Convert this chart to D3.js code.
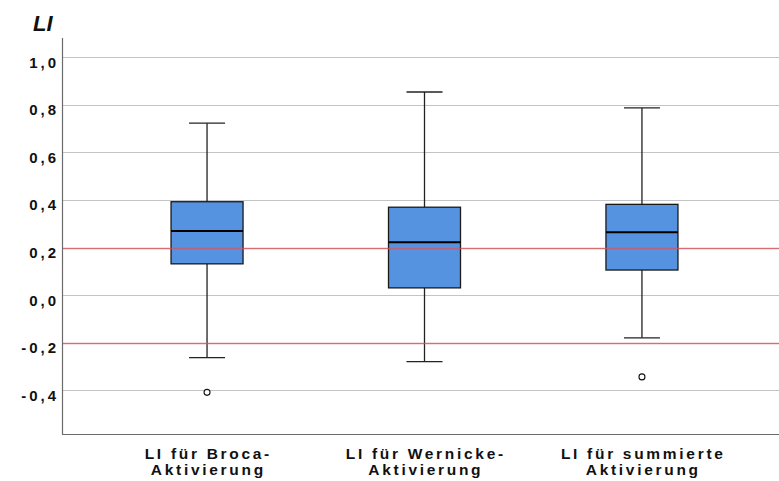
<!DOCTYPE html>
<html>
<head>
<meta charset="utf-8">
<script src="https://cdn.jsdelivr.net/npm/d3@7"></script>
<style>
  body { margin: 0; background: #fff; }
  text { font-family: "Liberation Sans", Arial, sans-serif; }
</style>
</head>
<body>
<script>
// values
const categories = ['LI für Broca-|Aktivierung', 'LI für Wernicke-|Aktivierung', 'LI für summierte|Aktivierung'];
const whiskerLow = [-0.262, -0.279, -0.179];
const q1 = [0.132, 0.031, 0.106];
const medians = [0.270, 0.223, 0.265];
const q3 = [0.393, 0.370, 0.382];
const whiskerHigh = [0.723, 0.854, 0.787];
const outliers = [[-0.408], [], [-0.343]];
const yTicks = [-0.4, -0.2, 0.0, 0.2, 0.4, 0.6, 0.8, 1.0];
const refLines = [-0.2, 0.2];

const width = 779;
const height = 481;
const plotL = 62, plotR = 787, plotT = 38, plotB = 434;

const svg = d3.create('svg')
  .attr('width', width)
  .attr('height', height)
  .attr('viewBox', [0, 0, width, height]);

const y = d3.scaleLinear().domain([-0.583, 1.081]).range([plotB, plotT]);
const x = d3.scalePoint().domain(categories).range([plotL, plotR]).padding(0.667);

const boxW = 72, capW = 36;

// grid lines
svg.append('g')
  .selectAll('line')
  .data(yTicks)
  .join('line')
  .attr('x1', plotL).attr('x2', plotR)
  .attr('y1', d => Math.round(y(d)) + 0.5).attr('y2', d => Math.round(y(d)) + 0.5)
  .attr('stroke', '#c4c4c4')
  .attr('stroke-width', 1);

const data = categories.map((c, i) => ({
  c, lo: whiskerLow[i], q1: q1[i], med: medians[i], q3: q3[i], hi: whiskerHigh[i], out: outliers[i]
}));

const g = svg.append('g').selectAll('g').data(data).join('g')
  .attr('transform', d => `translate(${x(d.c)},0)`);

// whiskers
g.append('line')
  .attr('x1', 0).attr('x2', 0)
  .attr('y1', d => y(d.hi)).attr('y2', d => y(d.q3))
  .attr('stroke', '#222').attr('stroke-width', 1.3);
g.append('line')
  .attr('x1', 0).attr('x2', 0)
  .attr('y1', d => y(d.q1)).attr('y2', d => y(d.lo))
  .attr('stroke', '#222').attr('stroke-width', 1.3);
g.append('line')
  .attr('x1', -capW / 2).attr('x2', capW / 2)
  .attr('y1', d => y(d.hi)).attr('y2', d => y(d.hi))
  .attr('stroke', '#222').attr('stroke-width', 1.3);
g.append('line')
  .attr('x1', -capW / 2).attr('x2', capW / 2)
  .attr('y1', d => y(d.lo)).attr('y2', d => y(d.lo))
  .attr('stroke', '#222').attr('stroke-width', 1.3);

// boxes
g.append('rect')
  .attr('x', -boxW / 2).attr('width', boxW)
  .attr('y', d => y(d.q3)).attr('height', d => y(d.q1) - y(d.q3))
  .attr('fill', '#5593e0')
  .attr('stroke', '#1a1a1a').attr('stroke-width', 1.3);

// outliers
g.selectAll('circle')
  .data(d => d.out)
  .join('circle')
  .attr('cx', 0).attr('cy', d => y(d))
  .attr('r', 3)
  .attr('fill', '#fff')
  .attr('stroke', '#111').attr('stroke-width', 1.1);

// reference lines, drawn over the boxes
svg.append('g')
  .selectAll('line')
  .data(refLines)
  .join('line')
  .attr('x1', plotL).attr('x2', plotR)
  .attr('y1', d => Math.round(y(d)) + 0.5).attr('y2', d => Math.round(y(d)) + 0.5)
  .attr('stroke', '#d9535c')
  .attr('stroke-opacity', 0.75)
  .attr('stroke-width', 1.3);

// medians on top
g.append('line')
  .attr('x1', -boxW / 2).attr('x2', boxW / 2)
  .attr('y1', d => y(d.med)).attr('y2', d => y(d.med))
  .attr('stroke', '#000').attr('stroke-width', 2);

// axes
svg.append('line')
  .attr('x1', plotL + 0.5).attr('x2', plotL + 0.5)
  .attr('y1', plotT).attr('y2', plotB)
  .attr('stroke', '#6b6b6b').attr('stroke-width', 1.2);
svg.append('line')
  .attr('x1', plotL).attr('x2', plotR)
  .attr('y1', plotB + 0.5).attr('y2', plotB + 0.5)
  .attr('stroke', '#6b6b6b').attr('stroke-width', 1.2);

// y tick labels (sit just below their grid line)
svg.append('g')
  .selectAll('text')
  .data(yTicks)
  .join('text')
  .attr('x', 59)
  .attr('y', d => y(d) + 10.3)
  .attr('text-anchor', 'end')
  .attr('font-size', 15)
  .attr('font-weight', 'bold')
  .attr('letter-spacing', '3px')
  .attr('fill', '#111')
  .text(d => d3.format('.1f')(d).replace('.', ',').replace('−', '-'));

// y title
svg.append('text')
  .attr('x', 33).attr('y', 30.5)
  .attr('font-size', 22)
  .attr('font-weight', 'bold')
  .attr('font-style', 'italic')
  .attr('fill', '#111')
  .text('LI');

// x labels
const xl = svg.append('g').selectAll('text').data(categories).join('text')
  .attr('text-anchor', 'middle')
  .attr('font-size', 15.5)
  .attr('font-weight', 'bold')
  .attr('letter-spacing', '2.7px')
  .attr('fill', '#111');
xl.selectAll('tspan')
  .data(d => d.split('|').map(s => ({ s, x: x(d) + 1.3 })))
  .join('tspan')
  .attr('x', d => d.x)
  .attr('y', (d, i) => 459 + i * 15.5)
  .text(d => d.s);

document.body.appendChild(svg.node());
</script>
</body>
</html>
